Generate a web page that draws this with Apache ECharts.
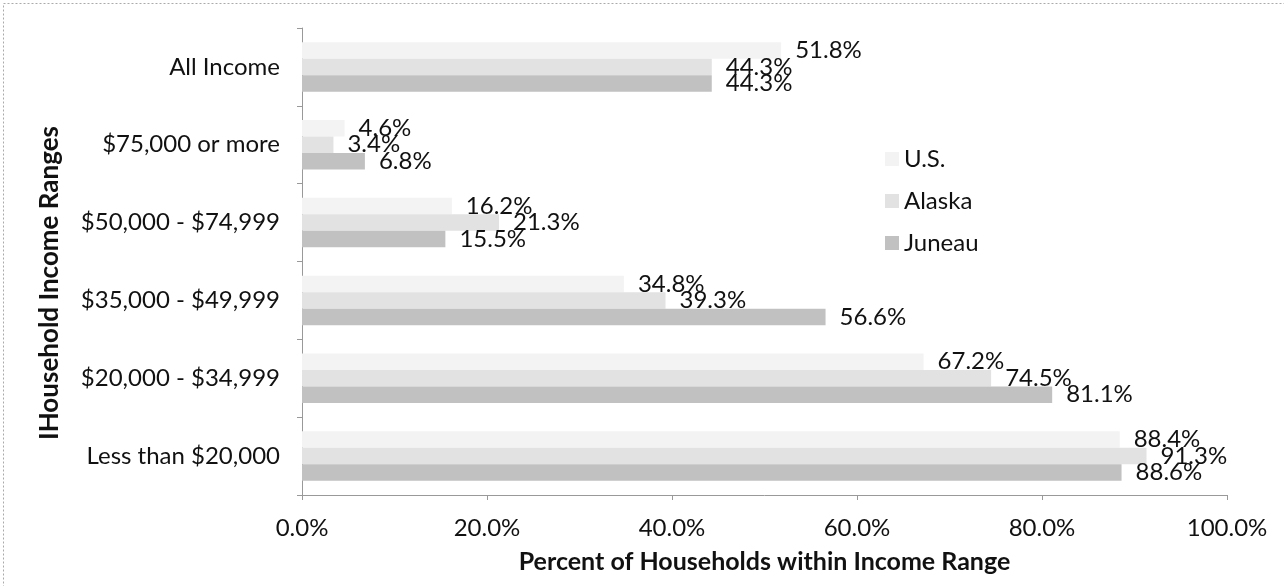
<!DOCTYPE html>
<html>
<head>
<meta charset="utf-8">
<script src="https://cdn.jsdelivr.net/npm/echarts@6/dist/echarts.min.js"></script>
<style>
    html, body { margin: 0; padding: 0; background: #fff; }
    #chart { width: 1284px; height: 586px; }
</style>
</head>
<body>
<div id="chart"></div>
<script>
    // categories, bottom to top (as the value axis is drawn)
    var categories = ['Less than $20,000', '$20,000 - $34,999', '$35,000 - $49,999',
        '$50,000 - $74,999', '$75,000 or more', 'All Income'];
    var seriesNames = ['U.S.', 'Alaska', 'Juneau'];
    var usValues = [88.4, 67.2, 34.8, 16.2, 4.6, 51.8];
    var alaskaValues = [91.3, 74.5, 39.3, 21.3, 3.4, 44.3];
    var juneauValues = [88.6, 81.1, 56.6, 15.5, 6.8, 44.3];
    var xTicks = [0, 20, 40, 60, 80, 100];

    var font = 'Lato';
    var fs = 24;
    var colors = ['#f3f3f3', '#e2e2e2', '#c1c1c1'];

    function makeSeries(name, values, color) {
        return {
            name: name,
            type: 'bar',
            data: values,
            barWidth: 16.5,
            barGap: '0%',
            itemStyle: { color: color },
            label: {
                show: true,
                position: 'right',
                distance: 14,
                color: '#111',
                fontFamily: font,
                fontSize: fs,
                formatter: function (p) { return p.value.toFixed(1) + '%'; }
            }
        };
    }

    var chart = echarts.init(document.getElementById('chart'));
    chart.setOption({
        animation: false,
        textStyle: { fontFamily: font },
        grid: { left: 302, right: 57, top: 28, bottom: 91 },
        legend: {
            orient: 'vertical',
            left: 880,
            top: 142,
            itemWidth: 14,
            itemHeight: 14,
            itemGap: 18,
            icon: 'rect',
            data: seriesNames,
            textStyle: { fontFamily: font, fontSize: fs, color: '#111' }
        },
        xAxis: {
            type: 'value',
            min: xTicks[0],
            max: xTicks[xTicks.length - 1],
            interval: 20,
            name: 'Percent of Households within Income Range',
            nameLocation: 'middle',
            nameGap: 54,
            nameTextStyle: { fontFamily: font, fontSize: 25, fontWeight: 'bold', color: '#111' },
            axisLine: { show: true, lineStyle: { color: '#999', width: 1 } },
            axisTick: { show: true, length: 5, lineStyle: { color: '#999' } },
            splitLine: { show: false },
            axisLabel: {
                color: '#111', fontFamily: font, fontSize: fs, margin: 21,
                formatter: function (v) { return v.toFixed(1) + '%'; }
            }
        },
        yAxis: {
            type: 'category',
            data: categories,
            axisLine: { show: true, lineStyle: { color: '#999', width: 1 } },
            axisTick: { show: true, length: 5, lineStyle: { color: '#999' } },
            axisLabel: { color: '#111', fontFamily: font, fontSize: fs, margin: 22 }
        },
        series: [
            makeSeries(seriesNames[0], usValues, colors[0]),
            makeSeries(seriesNames[1], alaskaValues, colors[1]),
            makeSeries(seriesNames[2], juneauValues, colors[2])
        ],
        graphic: [{
            type: 'text',
            x: 50, y: 283,
            rotation: Math.PI / 2,
            style: {
                text: 'IHousehold Income Ranges',
                align: 'center', verticalAlign: 'middle',
                fontFamily: font, fontSize: 26, fontWeight: 'bold', fill: '#111'
            },
            silent: true
        }, {
            type: 'rect',
            left: 1, top: 1,
            shape: { width: 1281, height: 583 },
            style: { fill: null, stroke: '#aaa', lineWidth: 1, lineDash: [2, 2] },
            silent: true
        }]
    });
</script>
</body>
</html>
